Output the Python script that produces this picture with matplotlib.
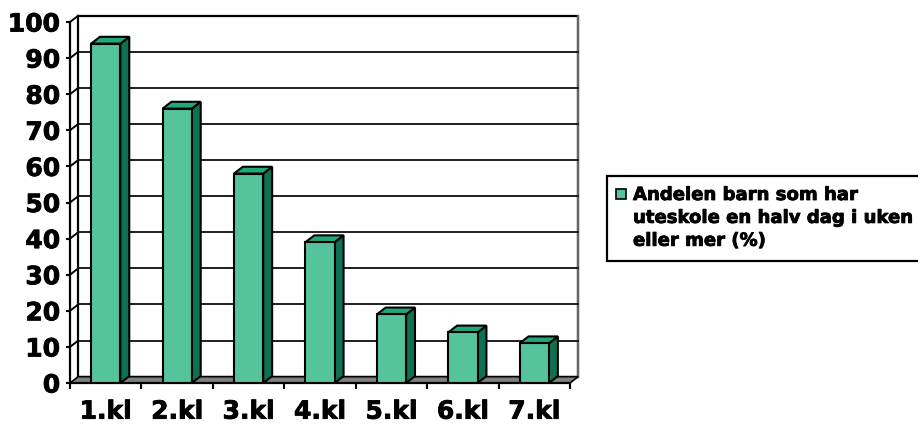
import numpy as np
import matplotlib
matplotlib.use('Agg')
import matplotlib.pyplot as plt
import matplotlib.patheffects as pe
from matplotlib.patches import Polygon, Rectangle

# data
klasser = ['1.kl', '2.kl', '3.kl', '4.kl', '5.kl', '6.kl', '7.kl']
andel = [94, 76, 58, 39, 19, 14, 11]
y_ticks = [0, 10, 20, 30, 40, 50, 60, 70, 80, 90, 100]
serie_navn = 'Andelen barn som har\nuteskole en halv dag i uken\neller mer (%)'

front_farge = '#55c39b'
side_farge = '#0f7154'
topp_farge = '#22a77b'

plt.rcParams['font.family'] = ['DejaVu Sans']
plt.rcParams['font.weight'] = 'bold'

# the original font is a bit heavier than DejaVu bold
tykk = [pe.withStroke(linewidth=0.6, foreground='black')]

W, H = 918, 424
fig = plt.figure(figsize=(W / 100, H / 100), dpi=100)
ax = fig.add_axes([70 / W, 41 / H, 500 / W, 361 / H])

n = len(klasser)
xmin, xmax = -0.5, n - 0.5
ax.set_xlim(xmin, xmax)
ax.set_ylim(0, 100)

# fake 3d depth (wall and bars)
DX, DY = 0.115, 1.75
BDX, BDY = 0.125, 1.9
bw = 0.41

# back wall
wall = Rectangle((xmin + DX, DY), xmax - xmin, 100, facecolor='white',
                 edgecolor='black', lw=1.6, clip_on=False, zorder=0.5)
ax.add_patch(wall)
ax.plot([xmax + DX, xmax + DX], [DY, 100 + DY], color='#666666', lw=1.6,
        clip_on=False, zorder=0.6)

# gridlines on back wall + side wall diagonals
for v in y_ticks[1:]:
    if v < 100:
        ax.plot([xmin + DX, xmax + DX], [v + DY, v + DY], color='#1e1e1e',
                lw=1.4, clip_on=False, zorder=1)
    ax.plot([xmin, xmin + DX], [v, v + DY], color='black', lw=1.4,
            clip_on=False, zorder=1)

# floor
floor = Polygon([(xmin, 0), (xmax, 0), (xmax + DX, DY), (xmin + DX, DY)],
                closed=True, facecolor='#808080', edgecolor='black', lw=1.2,
                clip_on=False, zorder=1.5)
ax.add_patch(floor)

x = np.arange(n)
bars = ax.bar(x, andel, width=bw, color=front_farge, edgecolor='black',
              lw=1.5, zorder=3)
for rect, v in zip(bars, andel):
    l = rect.get_x()
    r = l + rect.get_width()
    side = Polygon([(r, 0), (r + BDX, BDY), (r + BDX, v + BDY), (r, v)],
                   closed=True, facecolor=side_farge, edgecolor='black',
                   lw=1.5, clip_on=False, zorder=2.9)
    top = Polygon([(l, v), (r, v), (r + BDX, v + BDY), (l + BDX, v + BDY)],
                  closed=True, facecolor=topp_farge, edgecolor='black',
                  lw=1.5, clip_on=False, zorder=2.9)
    ax.add_patch(side)
    ax.add_patch(top)

for s in ['top', 'right']:
    ax.spines[s].set_visible(False)
ax.spines['left'].set_linewidth(1.6)
ax.spines['bottom'].set_linewidth(1.6)
ax.spines['left'].set_zorder(2)
ax.spines['bottom'].set_zorder(2)

ax.set_yticks(y_ticks)
ax.set_yticklabels([str(t) for t in y_ticks], fontsize=18, fontweight='bold')
ax.tick_params(axis='y', direction='out', length=3, width=1.5, pad=4)

ax.set_xticks(x)
ax.set_xticklabels(klasser, fontsize=18, fontweight='bold')
ax.set_xticks(np.arange(n + 1) - 0.5, minor=True)
ax.tick_params(axis='x', which='major', length=0, pad=12)
ax.tick_params(axis='x', which='minor', direction='out', length=4, width=1.5)
ax.set_facecolor('none')

for t in ax.get_xticklabels() + ax.get_yticklabels():
    t.set_path_effects(tykk)

# legend box drawn by hand, it runs off the right edge
fig.add_artist(Rectangle((607 / W, 1 - 261 / H), 330 / W, 85 / H,
                         transform=fig.transFigure, facecolor='white',
                         edgecolor='black', lw=1.6))
fig.add_artist(Rectangle((616 / W, 1 - 199 / H), 10 / W, 10 / H,
                         transform=fig.transFigure, facecolor=front_farge,
                         edgecolor='black', lw=1.2))
fig.text(633 / W, 1 - 186 / H, serie_navn, fontsize=13, fontweight='bold',
         va='top', ha='left', linespacing=1.35, path_effects=tykk)

fig.savefig('out.png', dpi=100)
